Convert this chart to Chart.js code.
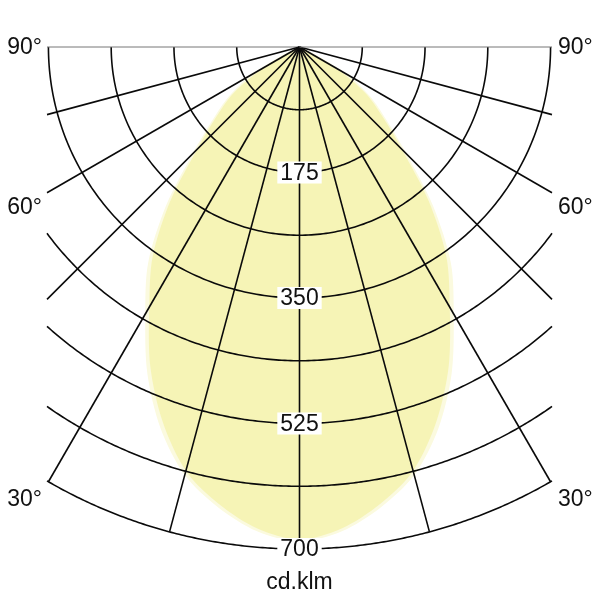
<!DOCTYPE html>
<html>
<head>
<meta charset="utf-8">
<script src="https://cdn.jsdelivr.net/npm/chart.js@4/dist/chart.umd.min.js"></script>
<style>
  html, body { margin: 0; padding: 0; background: #fff; }
  canvas { display: block; }
</style>
</head>
<body>
<canvas id="polarChart" width="600" height="600"></canvas>
<script>
// luminous intensity (cd/klm) by angle from nadir, both sides mirrored
const curveAngles = [0, 5, 10, 15, 20, 25, 30, 35, 40, 45, 50, 55, 60, 65, 70, 90];
const mainCurve   = [687, 674, 647, 612, 557, 492, 419, 357, 280, 202, 151, 112, 58, 5, 0, 0];
const outerCurve  = [690, 678, 652, 618, 566, 502, 430, 368, 290, 211, 158, 120, 78, 22, 0, 0];

// grid
const ringValues = [87.5, 175, 262.5, 350, 437.5, 525, 612.5, 700];
const ringLabels = [175, 350, 525, 700];
const spokeAngles = [-90, -75, -60, -45, -30, -15, 0, 15, 30, 45, 60, 75, 90];
const sideAngles = [90, 60, 30];
const sideLabels = ['90°', '60°', '30°'];
const unitLabel = 'cd.klm';

const X_LIMIT = 352;
const R_MAX = 700;
const rad = d => d * Math.PI / 180;

function toPoints(values) {
    const pts = [];
    for (let i = curveAngles.length - 1; i >= 0; i--) {
        const a = rad(-curveAngles[i]);
        pts.push({ x: values[i] * Math.sin(a), y: -values[i] * Math.cos(a) });
    }
    for (let i = 1; i < curveAngles.length; i++) {
        const a = rad(curveAngles[i]);
        pts.push({ x: values[i] * Math.sin(a), y: -values[i] * Math.cos(a) });
    }
    return pts;
}

const polarGrid = {
    id: 'polarGrid',
    afterDatasetsDraw(chart) {
        const { ctx, scales: { x, y } } = chart;
        const px = (vx, vy) => [x.getPixelForValue(vx), y.getPixelForValue(vy)];
        ctx.save();
        ctx.strokeStyle = '#0a0a0a';
        ctx.lineWidth = 1.6;

        // rings, clipped to the side limits
        ringValues.forEach(r => {
            const maxA = r > X_LIMIT ? Math.asin(X_LIMIT / r) : Math.PI / 2;
            ctx.beginPath();
            for (let i = 0; i <= 200; i++) {
                const a = -maxA + (2 * maxA) * i / 200;
                const [cx, cy] = px(r * Math.sin(a), -r * Math.cos(a));
                i === 0 ? ctx.moveTo(cx, cy) : ctx.lineTo(cx, cy);
            }
            ctx.stroke();
        });

        // spokes
        spokeAngles.forEach(deg => {
            const a = rad(deg);
            const s = Math.abs(Math.sin(a));
            const len = s > 0 ? Math.min(R_MAX, X_LIMIT / s) : R_MAX;
            const [x0, y0] = px(0, 0);
            const [x1, y1] = px(len * Math.sin(a), -len * Math.cos(a));
            ctx.strokeStyle = Math.abs(deg) === 90 ? '#777' : '#0a0a0a';
            ctx.lineWidth = Math.abs(deg) === 90 ? 1 : 1.6;
            ctx.beginPath();
            ctx.moveTo(x0, y0);
            ctx.lineTo(x1, y1);
            ctx.stroke();
        });

        // ring value labels on the vertical axis
        ctx.font = '23px "Liberation Sans", Arial, sans-serif';
        ctx.textAlign = 'center';
        ctx.textBaseline = 'middle';
        ringLabels.forEach(v => {
            const [lx, ly] = px(0, -v);
            const w = ctx.measureText(String(v)).width;
            ctx.fillStyle = '#fff';
            ctx.fillRect(lx - w / 2 - 3, ly - 11, w + 6, 22);
            ctx.fillStyle = '#111';
            ctx.fillText(String(v), lx, ly + 1);
        });

        // side angle labels
        sideAngles.forEach((deg, i) => {
            const a = rad(deg);
            const dy = deg === 90 ? 0 : X_LIMIT / Math.tan(a) + 20;
            const [lxL, ly] = px(-X_LIMIT, -dy);
            const [lxR] = px(X_LIMIT, -dy);
            ctx.fillStyle = '#111';
            ctx.textAlign = 'right';
            ctx.fillText(sideLabels[i], lxL - 5, ly + 1);
            ctx.textAlign = 'left';
            ctx.fillText(sideLabels[i], lxR + 6, ly + 1);
        });

        ctx.textAlign = 'center';
        const [ux] = px(0, 0);
        ctx.fillText(unitLabel, ux, chart.chartArea.bottom + 34);
        ctx.restore();
    }
};

new Chart(document.getElementById('polarChart'), {
    type: 'scatter',
    data: {
        datasets: [{
            data: toPoints(mainCurve),
            showLine: true,
            fill: 'shape',
            backgroundColor: '#f6f4b6',
            borderColor: 'rgba(0,0,0,0)',
            borderWidth: 0,
            pointRadius: 0,
            tension: 0.3
        }, {
            data: toPoints(outerCurve),
            showLine: true,
            fill: 'shape',
            backgroundColor: '#fbfadf',
            borderColor: 'rgba(0,0,0,0)',
            borderWidth: 0,
            pointRadius: 0,
            tension: 0.3
        }]
    },
    options: {
        responsive: false,
        animation: false,
        devicePixelRatio: 1,
        layout: { padding: { left: 47, right: 48, top: 47, bottom: 51 } },
        plugins: {
            legend: { display: false },
            tooltip: { enabled: false }
        },
        scales: {
            x: { type: 'linear', display: false, min: -X_LIMIT, max: X_LIMIT },
            y: { type: 'linear', display: false, min: -R_MAX, max: 0 }
        }
    },
    plugins: [polarGrid]
});
</script>
</body>
</html>
